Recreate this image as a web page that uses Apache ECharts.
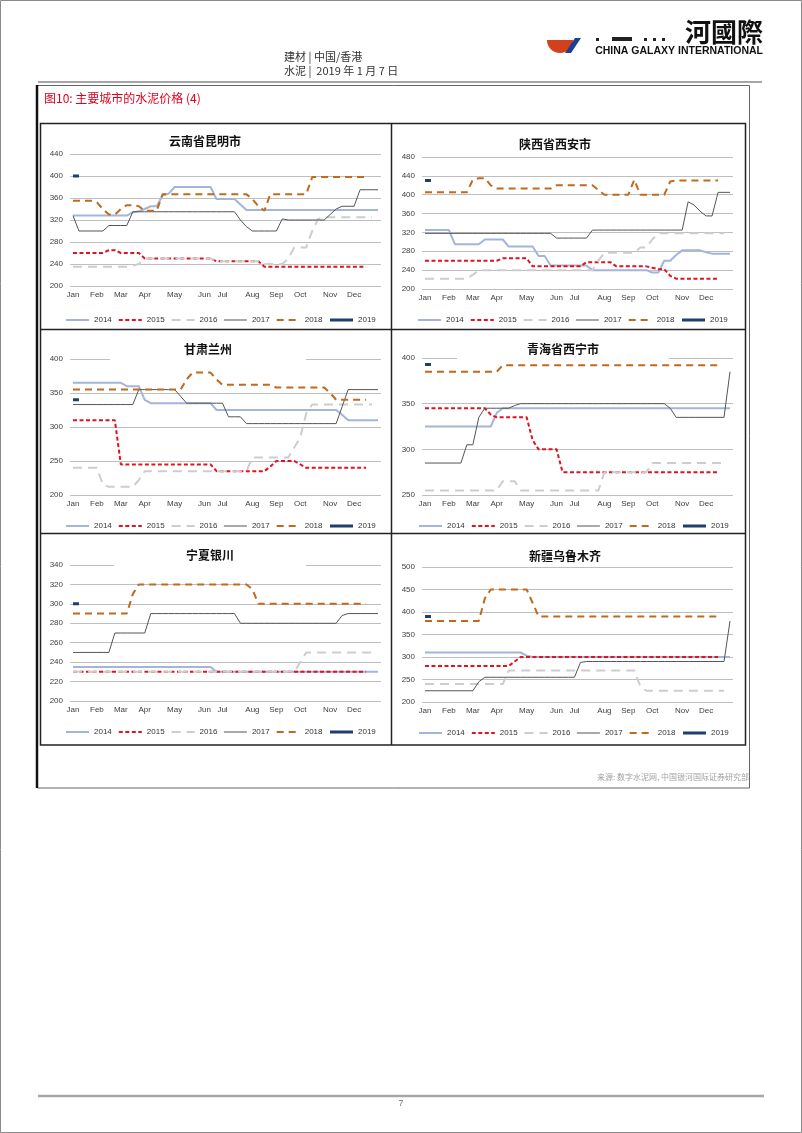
<!DOCTYPE html>
<html>
<head>
<meta charset="utf-8">
<title>主要城市的水泥价格</title>
<script src="https://cdn.jsdelivr.net/npm/echarts@6/dist/echarts.min.js"></script>
<style>
html, body { margin: 0; padding: 0; background: #fff; }
#main { width: 802px; height: 1133px; }
</style>
</head>
<body>
<div id="main"></div>
<script>
// 年份(图例)
var years = ['2014', '2015', '2016', '2017', '2018', '2019'];
// 横轴: 每周一个点, 只在月初所在的周显示月份
var weeks = [];
for (var w = 1; w <= 52; w++) { weeks.push('W' + w); }
var monthLabels = ['Jan', 'Feb', 'Mar', 'Apr', 'May', 'Jun', 'Jul', 'Aug', 'Sep', 'Oct', 'Nov', 'Dec'];
var monthWeekIdx = [0, 4, 8, 12, 17, 22, 25, 30, 34, 38, 43, 47];

// 云南省昆明市
var km2014 = [
  328,328,328,328,328,328,328,328,328,328,334,336,340,
  345,345,365,368,380,380,380,380,380,380,380,358,358,
  358,358,348,338,338,338,338,338,338,338,338,338,338,
  338,338,338,338,338,338,338,338,338,338,338,338,338];
var km2015 = [
  260,260,260,260,260,260,265,265,260,260,260,260,250,
  250,250,250,250,250,250,250,250,250,250,250,245,245,
  245,245,245,245,245,245,235,235,235,235,235,235,235,
  235,235,235,235,235,235,235,235,235,235,235];
var km2016 = [
  235,235,235,235,235,235,235,235,235,235,237,240,250,
  250,250,250,250,250,250,250,250,250,250,250,245,245,
  245,245,245,245,245,245,240,240,240,240,250,270,270,
  270,300,322,325,325,325,325,325,325,325,325,325];
var km2017 = [
  328,300,300,300,300,300,310,310,310,310,335,335,335,
  335,335,335,335,335,335,335,335,335,335,335,335,335,
  335,335,320,308,300,300,300,300,300,322,320,320,320,
  320,320,320,320,330,340,345,345,345,375,375,375,375];
var km2018 = [
  355,355,355,355,352,340,330,330,340,347,347,345,337,
  337,337,367,367,367,367,367,367,367,367,367,367,367,
  367,367,367,367,358,345,337,367,367,367,367,367,367,
  367,398,398,398,398,398,398,398,398,398,398];
var km2019 = [400, 400];

// 陕西省西安市
var xa2014 = [
  325,325,325,325,325,295,295,295,295,295,305,305,305,
  305,290,290,290,290,290,270,270,250,250,250,250,250,
  250,250,240,240,240,240,240,240,240,240,240,240,235,
  235,260,260,272,282,282,282,282,278,275,275,275,275];
var xa2015 = [
  260,260,260,260,260,260,260,260,260,260,260,260,260,
  265,265,265,265,265,248,248,248,248,248,248,248,248,
  248,257,257,257,257,257,248,248,248,248,248,248,245,
  242,242,228,222,222,222,222,222,222,222,222];
var xa2016 = [
  222,222,222,222,222,222,222,222,230,240,240,240,240,
  240,240,240,240,240,240,240,240,240,240,240,240,240,
  240,240,240,260,277,277,277,277,277,277,288,288,305,
  318,318,318,318,318,318,318,318,318,318,318,318];
var xa2017 = [
  318,318,318,318,318,318,318,318,318,318,318,318,318,
  318,318,318,318,318,318,318,318,318,308,308,308,308,
  308,308,325,325,325,325,325,325,325,325,325,325,325,
  325,325,325,325,325,385,378,365,355,355,405,405,405];
var xa2018 = [
  405,405,405,405,405,405,405,405,432,435,435,420,413,
  413,413,413,413,413,413,413,413,413,420,420,420,420,
  420,420,420,410,400,400,400,400,400,432,400,400,400,
  400,400,428,430,430,430,430,430,430,430,430];
var xa2019 = [430, 430];

// 甘肃兰州
var lz2014 = [
  365,365,365,365,365,365,365,365,365,360,360,360,340,
  335,335,335,335,335,335,335,335,335,335,335,325,325,
  325,325,325,325,325,325,325,325,325,325,325,325,325,
  325,325,325,325,325,325,318,310,310,310,310,310,310];
var lz2015 = [
  310,310,310,310,310,310,310,310,245,245,245,245,245,
  245,245,245,245,245,245,245,245,245,245,245,235,235,
  235,235,235,235,235,235,235,242,250,250,250,250,245,
  240,240,240,240,240,240,240,240,240,240,240];
var lz2016 = [
  240,240,240,240,240,215,212,212,212,212,212,222,235,
  235,235,235,235,235,235,235,235,235,235,235,235,235,
  235,235,235,235,255,255,255,255,255,255,255,270,285,
  320,333,333,333,333,333,333,333,333,333,333,333];
var lz2017 = [
  333,333,333,333,333,333,333,333,333,333,333,355,355,
  355,355,355,355,355,345,335,335,335,335,335,335,335,
  315,315,315,305,305,305,305,305,305,305,305,305,305,
  305,305,305,305,305,305,330,355,355,355,355,355,355];
var lz2018 = [
  355,355,355,355,355,355,355,355,355,355,355,355,355,
  355,355,355,355,355,355,370,380,380,380,380,370,362,
  362,362,362,362,362,362,362,362,358,358,358,358,358,
  358,358,358,358,350,340,340,340,340,340,340];
var lz2019 = [340, 340];

// 青海省西宁市
var xn2014 = [
  325,325,325,325,325,325,325,325,325,325,325,325,340,
  345,345,345,345,345,345,345,345,345,345,345,345,345,
  345,345,345,345,345,345,345,345,345,345,345,345,345,
  345,345,345,345,345,345,345,345,345,345,345,345,345];
var xn2015 = [
  345,345,345,345,345,345,345,345,345,345,345,338,335,
  335,335,335,335,335,310,300,300,300,300,275,275,275,
  275,275,275,275,275,275,275,275,275,275,275,275,275,
  275,275,275,275,275,275,275,275,275,275,275];
var xn2016 = [
  255,255,255,255,255,255,255,255,255,255,255,255,255,
  265,265,265,255,255,255,255,255,255,255,255,255,255,
  255,255,255,255,275,275,275,275,275,275,275,275,285,
  285,285,285,285,285,285,285,285,285,285,285,285];
var xn2017 = [
  285,285,285,285,285,285,285,305,305,335,345,345,345,
  345,345,348,350,350,350,350,350,350,350,350,350,350,
  350,350,350,350,350,350,350,350,350,350,350,350,350,
  350,350,345,335,335,335,335,335,335,335,335,335,385];
var xn2018 = [
  385,385,385,385,385,385,385,385,385,385,385,385,385,
  392,392,392,392,392,392,392,392,392,392,392,392,392,
  392,392,392,392,392,392,392,392,392,392,392,392,392,
  392,392,392,392,392,392,392,392,392,392,392];
var xn2019 = [393, 393];

// 宁夏银川
var yc2014 = [
  235,235,235,235,235,235,235,235,235,235,235,235,235,
  235,235,235,235,235,235,235,235,235,235,235,230,230,
  230,230,230,230,230,230,230,230,230,230,230,230,230,
  230,230,230,230,230,230,230,230,230,230,230,230,230];
var yc2015 = [
  230,230,230,230,230,230,230,230,230,230,230,230,230,
  230,230,230,230,230,230,230,230,230,230,230,230,230,
  230,230,230,230,230,230,230,230,230,230,230,230,230,
  230,230,230,230,230,230,230,230,230,230,230];
var yc2016 = [
  230,230,230,230,230,230,230,230,230,230,230,230,230,
  230,230,230,230,230,230,230,230,230,230,230,230,230,
  230,230,230,230,230,230,230,230,230,230,230,230,240,
  250,250,250,250,250,250,250,250,250,250,250,250];
var yc2017 = [
  250,250,250,250,250,250,250,270,270,270,270,270,270,
  290,290,290,290,290,290,290,290,290,290,290,290,290,
  290,290,280,280,280,280,280,280,280,280,280,280,280,
  280,280,280,280,280,280,288,290,290,290,290,290,290];
var yc2018 = [
  290,290,290,290,290,290,290,290,290,290,310,320,320,
  320,320,320,320,320,320,320,320,320,320,320,320,320,
  320,320,320,320,315,300,300,300,300,300,300,300,300,
  300,300,300,300,300,300,300,300,300,300,300];
var yc2019 = [300, 300];

// 新疆乌鲁木齐
var wl2014 = [
  310,310,310,310,310,310,310,310,310,310,310,310,310,
  310,310,310,310,303,300,300,300,300,300,300,300,300,
  300,300,300,300,300,300,300,300,300,300,300,300,300,
  300,300,300,300,300,300,300,300,300,300,300,300,300];
var wl2015 = [
  280,280,280,280,280,280,280,280,280,280,280,280,280,
  280,280,290,300,300,300,300,300,300,300,300,300,300,
  300,300,300,300,300,300,300,300,300,300,300,300,300,
  300,300,300,300,300,300,300,300,300,300,300];
var wl2016 = [
  240,240,240,240,240,240,240,240,240,240,240,240,240,
  240,270,270,270,270,270,270,270,270,270,270,270,270,
  270,270,270,270,270,270,270,270,270,270,235,225,225,
  225,225,225,225,225,225,225,225,225,225,225,225];
var wl2017 = [
  225,225,225,225,225,225,225,225,225,245,255,255,255,
  255,255,255,255,255,255,255,255,255,255,255,255,255,
  288,290,290,290,290,290,290,290,290,290,290,290,290,
  290,290,290,290,290,290,290,290,290,290,290,290,380];
var wl2018 = [
  380,380,380,380,380,380,380,380,380,380,430,450,450,
  450,450,450,450,450,420,390,390,390,390,390,390,390,
  390,390,390,390,390,390,390,390,390,390,390,390,390,
  390,390,390,390,390,390,390,390,390,390,390];
var wl2019 = [390, 390];

// 线条样式
var yearColors = ['#a3b5da', '#e2121f', '#cdcdcd', '#555555', '#bf6a1f', '#1f3d6d'];
var yearWidths = [2, 2, 2, 1, 2, 3];
var yearDashes = ['solid', [4, 2.5], [9, 6], 'solid', [7, 5], 'solid'];

// 六个小图的位置(grid: left, top, width, height)
var panels = [
  { title: '云南省昆明市', data: [km2014, km2015, km2016, km2017, km2018, km2019], min: 200, max: 440, interval: 40,
    grid: [70, 154, 311, 132], titleAt: [205, 142], titlePad: [2, 4, 2, 4], legendAt: [65, 316] },
  { title: '陕西省西安市', data: [xa2014, xa2015, xa2016, xa2017, xa2018, xa2019], min: 200, max: 480, interval: 40,
    grid: [422, 157, 311, 132], titleAt: [555, 145], titlePad: [2, 4, 2, 4], legendAt: [417, 316] },
  { title: '甘肃兰州', data: [lz2014, lz2015, lz2016, lz2017, lz2018, lz2019], min: 200, max: 400, interval: 50,
    grid: [70, 359, 311, 136], titleAt: [208, 350], titlePad: [3, 74, 6, 74], legendAt: [65, 522] },
  { title: '青海省西宁市', data: [xn2014, xn2015, xn2016, xn2017, xn2018, xn2019], min: 250, max: 400, interval: 50,
    grid: [422, 358, 311, 137], titleAt: [563, 350], titlePad: [3, 70, 6, 70], legendAt: [418, 522] },
  { title: '宁夏银川', data: [yc2014, yc2015, yc2016, yc2017, yc2018, yc2019], min: 200, max: 340, interval: 20,
    grid: [70, 565, 311, 136], titleAt: [210, 556], titlePad: [3, 72, 6, 72], legendAt: [65, 728] },
  { title: '新疆乌鲁木齐', data: [wl2014, wl2015, wl2016, wl2017, wl2018, wl2019], min: 200, max: 500, interval: 50,
    grid: [422, 567, 311, 135], titleAt: [565, 557], titlePad: [2, 4, 2, 4], legendAt: [418, 729] }
];

var chartDom = document.getElementById('main');
var myChart = echarts.init(chartDom);
var option;

var grids = [], xAxes = [], yAxes = [], titles = [], legends = [], series = [];
var labelFont = 'Liberation Sans, Arial, sans-serif';

panels.forEach(function (p, k) {
  grids.push({
    left: p.grid[0], top: p.grid[1], width: p.grid[2], height: p.grid[3],
    containLabel: false, outerBoundsMode: 'none'
  });
  xAxes.push({
    gridIndex: k,
    type: 'category',
    data: weeks,
    boundaryGap: true,
    axisLine: { show: false },
    axisTick: { show: false },
    splitLine: { show: false },
    axisLabel: {
      interval: function (i) { return monthWeekIdx.indexOf(i) > -1; },
      formatter: function (value) { return monthLabels[monthWeekIdx.indexOf(weeks.indexOf(value))] || ''; },
      fontSize: 8,
      color: '#404040',
      fontFamily: labelFont,
      margin: 5
    }
  });
  yAxes.push({
    gridIndex: k,
    type: 'value',
    min: p.min,
    max: p.max,
    interval: p.interval,
    axisLine: { show: false },
    axisTick: { show: false },
    axisLabel: { fontSize: 8, color: '#404040', fontFamily: labelFont, margin: 7 },
    splitLine: { lineStyle: { color: '#bfbfbf', width: 1 } } //网格线
  });
  titles.push({
    text: p.title,
    left: p.titleAt[0] - p.titlePad[3],
    top: p.titleAt[1] - 7 - p.titlePad[0],
    textAlign: 'center',
    padding: p.titlePad,
    backgroundColor: '#fff',
    textStyle: { fontSize: 12, fontWeight: 'bold', color: '#111', fontFamily: 'Noto Sans CJK SC' }
  });
  legends.push({
    left: p.legendAt[0],
    top: p.legendAt[1],
    padding: 0,
    itemWidth: 23,
    itemHeight: 8,
    itemGap: 6,
    selectedMode: false,
    textStyle: { fontSize: 8, color: '#333', fontFamily: labelFont },
    data: years.map(function (y, j) {
      return {
        name: y,
        itemStyle: { opacity: 0 },
        lineStyle: { color: yearColors[j], width: yearWidths[j], type: yearDashes[j] }
      };
    })
  });
  p.data.forEach(function (arr, j) {
    series.push({
      name: years[j],
      type: 'line',
      xAxisIndex: k,
      yAxisIndex: k,
      data: arr,
      symbol: 'none',
      showSymbol: false,
      silent: true,
      lineStyle: { color: yearColors[j], width: yearWidths[j], type: yearDashes[j] },
      itemStyle: { color: yearColors[j] }
    });
  });
});

// 页面装饰(页眉、图框、页脚)
var pageGraphics = [
  { type: 'rect', shape: { x: 0.5, y: 0.5, width: 801, height: 1132 }, style: { fill: 'none', stroke: '#8a8a8a', lineWidth: 1 } },
  { type: 'text', x: 284, y: 57, style: { text: '建材 | 中国/香港', fontSize: 11, fontFamily: 'Noto Sans CJK SC', fill: '#333', verticalAlign: 'middle' } },
  { type: 'text', x: 284, y: 71, style: { text: '水泥 |  2019 年 1 月 7 日', fontSize: 11, fontFamily: 'Noto Sans CJK SC', fill: '#333', verticalAlign: 'middle' } },
  { type: 'sector', shape: { cx: 560, cy: 40, r0: 0, r: 13, startAngle: 0, endAngle: Math.PI }, style: { fill: '#d2401c' } },
  { type: 'polygon', shape: { points: [[575, 38], [581, 38], [571, 53], [565, 53]] }, style: { fill: '#1c3f94' } },
  { type: 'rect', shape: { x: 596, y: 38, width: 3, height: 3 }, style: { fill: '#222' } },
  { type: 'rect', shape: { x: 612, y: 37, width: 20, height: 4 }, style: { fill: '#222' } },
  { type: 'rect', shape: { x: 644, y: 38, width: 3, height: 3 }, style: { fill: '#222' } },
  { type: 'rect', shape: { x: 653, y: 38, width: 3, height: 3 }, style: { fill: '#222' } },
  { type: 'rect', shape: { x: 662, y: 38, width: 3, height: 3 }, style: { fill: '#222' } },
  { type: 'text', x: 763, y: 32, style: { text: '河國際', fontSize: 26, fontWeight: 'bold', fontFamily: 'Noto Sans CJK TC', fill: '#111', align: 'right', verticalAlign: 'middle' } },
  { type: 'text', x: 763, y: 51, style: { text: 'CHINA GALAXY INTERNATIONAL', fontSize: 10.5, fontWeight: 'bold', fontFamily: 'Liberation Sans Narrow, Liberation Sans', fill: '#111', align: 'right', verticalAlign: 'middle' } },
  { type: 'line', shape: { x1: 38, y1: 82, x2: 762, y2: 82 }, style: { stroke: '#a6a6a6', lineWidth: 2 } },
  { type: 'rect', shape: { x: 37.5, y: 85.5, width: 712, height: 702.5 }, style: { fill: 'none', stroke: '#666', lineWidth: 1 } },
  { type: 'line', shape: { x1: 37, y1: 85, x2: 37, y2: 788 }, style: { stroke: '#111', lineWidth: 2.5 } },
  { type: 'text', x: 44, y: 98, style: { text: '图10: 主要城市的水泥价格 (4)', fontSize: 12, fontFamily: 'Noto Sans CJK SC', fill: '#e0001b', verticalAlign: 'middle' } },
  { type: 'rect', shape: { x: 40.5, y: 123.5, width: 705, height: 621.5 }, style: { fill: 'none', stroke: '#222', lineWidth: 1.5 } },
  { type: 'line', shape: { x1: 391.5, y1: 123.5, x2: 391.5, y2: 745 }, style: { stroke: '#222', lineWidth: 1.5 } },
  { type: 'line', shape: { x1: 40.5, y1: 329.5, x2: 745.5, y2: 329.5 }, style: { stroke: '#222', lineWidth: 1.5 } },
  { type: 'line', shape: { x1: 40.5, y1: 533.5, x2: 745.5, y2: 533.5 }, style: { stroke: '#222', lineWidth: 1.5 } },
  { type: 'text', x: 749, y: 777, style: { text: '来源: 数字水泥网, 中国银河国际证券研究部', fontSize: 8, fontFamily: 'Noto Sans CJK SC', fill: '#a0a0a0', align: 'right', verticalAlign: 'middle' } },
  { type: 'line', shape: { x1: 38, y1: 1096, x2: 764, y2: 1096 }, style: { stroke: '#a6a6a6', lineWidth: 2.5 } },
  { type: 'text', x: 401, y: 1104, style: { text: '7', fontSize: 9, fontFamily: labelFont, fill: '#777', align: 'center', verticalAlign: 'middle' } }
];

option = {
  animation: false,
  backgroundColor: '#fff',
  title: titles,
  legend: legends,
  grid: grids,
  xAxis: xAxes,
  yAxis: yAxes,
  series: series,
  graphic: { elements: pageGraphics }
};

option && myChart.setOption(option);
window.addEventListener('resize', function () {
  myChart.resize();
});
</script>
</body>
</html>
